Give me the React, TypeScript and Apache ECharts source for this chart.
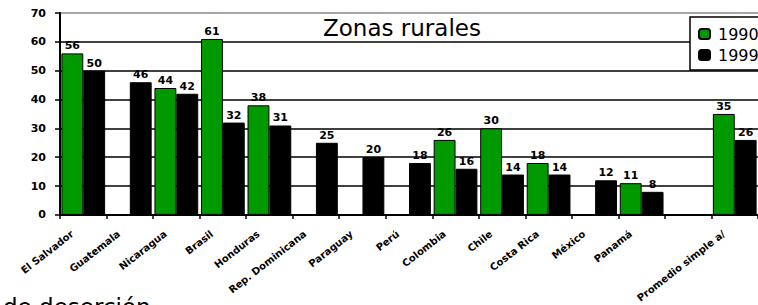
import React, { useEffect, useRef } from "react";
import * as echarts from "echarts";

const categories = [
  "El Salvador",
  "Guatemala",
  "Nicaragua",
  "Brasil",
  "Honduras",
  "Rep. Dominicana",
  "Paraguay",
  "Perú",
  "Colombia",
  "Chile",
  "Costa Rica",
  "México",
  "Panamá",
  "",
  "Promedio simple a/",
];
const v1990 = [56, null, 44, 61, 38, null, null, null, 26, 30, 18, null, 11, null, 35];
const v1999 = [50, 46, 42, 32, 31, 25, 20, 18, 16, 14, 14, 12, 8, null, 26];
const seriesNames = ["1990", "1999"];
const titleText = "Zonas rurales";
const footText = "de deserción";

const FONT = "DejaVu Sans";

export default function App() {
  const ref = useRef<HTMLDivElement>(null);
  useEffect(() => {
    if (!ref.current) return;
    const chart = echarts.init(ref.current, undefined, { renderer: "svg" });
    const labelStyle = {
      show: true,
      position: "top" as const,
      distance: 2,
      fontFamily: FONT,
      fontSize: 11,
      fontWeight: "bold" as const,
      color: "#000",
    };
    chart.setOption({
      animation: false,
      backgroundColor: "#fff",
      title: {
        text: titleText,
        left: 323,
        top: 16,
        padding: 0,
        textStyle: { fontFamily: FONT, fontSize: 23, fontWeight: "normal", color: "#000" },
      },
      legend: {
        data: seriesNames,
        orient: "vertical",
        left: 690,
        top: 17,
        itemWidth: 11,
        itemHeight: 10,
        itemGap: 5,
        padding: [9, 8, 7, 8],
        borderColor: "#000",
        borderWidth: 1.5,
        backgroundColor: "#fff",
        textStyle: { fontFamily: FONT, fontSize: 16, color: "#000", padding: [0, 0, 0, 3] },
      },
      grid: { left: 60, top: 13, width: 705, height: 209, containLabel: false },
      xAxis: {
        type: "category",
        data: categories,
        boundaryGap: true,
        axisLine: { lineStyle: { color: "#000", width: 2 } },
        axisTick: { show: true, length: 4, lineStyle: { color: "#000", width: 1.5 } },
        axisLabel: {
          interval: 0,
          rotate: 38,
          margin: 9,
          padding: [0, 14, 0, 0],
          fontFamily: FONT,
          fontSize: 10,
          fontWeight: "bold",
          color: "#000",
        },
      },
      yAxis: {
        type: "value",
        min: 0,
        max: 70,
        interval: 10,
        axisLine: { show: true, lineStyle: { color: "#000", width: 2 } },
        axisTick: { show: true, length: 5, lineStyle: { color: "#000", width: 1.5 } },
        axisLabel: {
          margin: 14,
          fontFamily: FONT,
          fontSize: 11,
          fontWeight: "bold",
          color: "#000",
        },
        splitLine: {
          show: true,
          lineStyle: {
            color: ["#000", "#000", "#000", "#000", "#000", "#000", "#000", "#888"],
            width: 1.5,
          },
        },
      },
      series: [
        {
          name: seriesNames[0],
          type: "bar",
          data: v1990,
          barGap: "0%",
          barCategoryGap: "6%",
          itemStyle: { color: "#009900", borderColor: "#000", borderWidth: 1 },
          label: labelStyle,
        },
        {
          name: seriesNames[1],
          type: "bar",
          data: v1999,
          barGap: "0%",
          barCategoryGap: "6%",
          itemStyle: { color: "#000", borderColor: "#000", borderWidth: 1 },
          label: labelStyle,
        },
      ],
      graphic: [
        {
          type: "text",
          left: 3,
          top: 295,
          style: { text: footText, fontFamily: FONT, fontSize: 23, fill: "#000" },
        },
      ],
    });
    return () => chart.dispose();
  }, []);
  return (
    <div
      style={{ position: "fixed", left: 0, top: 0, width: 758, height: 305, overflow: "hidden", background: "#fff" }}
    >
      <div ref={ref} style={{ width: 758, height: 305 }} />
    </div>
  );
}
